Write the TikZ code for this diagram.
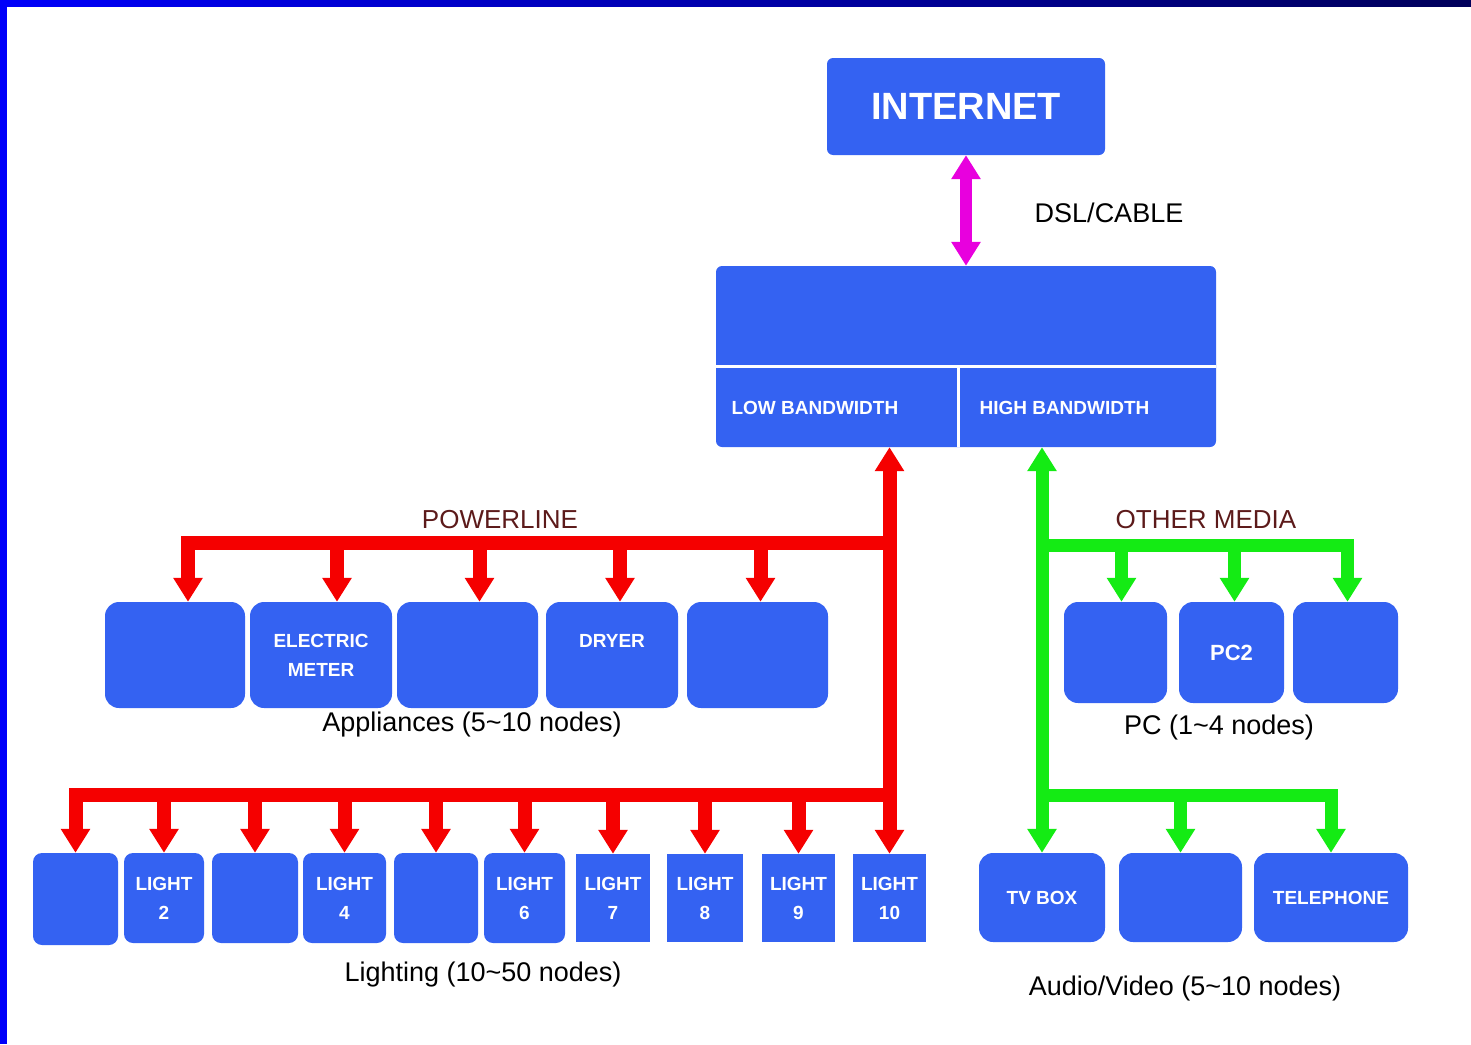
\documentclass[tikz,border=0pt]{standalone}
\usepackage{fontspec}
\setmainfont{Liberation Sans}
\usetikzlibrary{arrows.meta}
\definecolor{boxblue}{RGB}{52,98,242}
\definecolor{powerred}{RGB}{245,0,0}
\definecolor{mediagreen}{RGB}{20,235,20}
\definecolor{dslpink}{RGB}{232,0,222}
\definecolor{busname}{RGB}{92,26,26}
\definecolor{frameblue}{RGB}{0,0,250}
\definecolor{framenavy}{RGB}{0,0,90}
\begin{document}
\begin{tikzpicture}[
        x=1pt, y=-1pt,           % 以像素為單位, y 往下
        % 方塊樣式: 藍底白字
        box/.style={
            fill=boxblue,
            rounded corners=14pt,
            inner sep=0pt,
            text=white,
            align=center,
            font=\fontsize{19}{29}\selectfont\bfseries
        },
        smallbox/.style={box, rounded corners=9pt},
        flatbox/.style={box, sharp corners},
        % 連線樣式
        >={Triangle[width=28pt,length=24pt]},
        powerline/.style={draw=powerred, line width=14pt},
        medialine/.style={draw=mediagreen, line width=13pt},
        dslline/.style={draw=dslpink, line width=12pt},
        divider/.style={draw=white, line width=3pt},
        % 文字標籤樣式
        busname/.style={text=busname, font=\fontsize{26}{30}\selectfont},
        caption/.style={font=\fontsize{27}{32}\selectfont}
    ]

    % --- 邊框 ---
    \useasboundingbox (0,0) rectangle (1471,1044);
    \shade[left color=frameblue, right color=framenavy] (0,0) rectangle (1471,6);
    \fill[frameblue] (0,0) rectangle (7,1044);

    % --- 網際網路與閘道 ---
    \node[box, rounded corners=6pt, minimum width=278pt, minimum height=97pt,
          font=\fontsize{38}{40}\selectfont\bfseries] (internet) at (966,106.5) {INTERNET};
    \node[box, rounded corners=6pt, minimum width=500pt, minimum height=181pt] (router) at (966,356.5) {};
    \draw[divider] (router.west |- 0,366) -- (router.east |- 0,366);
    \draw[divider] (958,366) -- (router.south -| 958,0);
    \node[anchor=west, text=white, font=\fontsize{19}{22}\selectfont\bfseries] (lowbw) at (728,408) {LOW BANDWIDTH};
    \node[anchor=west, text=white, font=\fontsize{19}{22}\selectfont\bfseries] (highbw) at (976,408) {HIGH BANDWIDTH};
    \draw[dslline, <->] (internet.south) -- (router.north);
    \node[font=\fontsize{27}{30}\selectfont] (dsl) at (1109,213) {DSL/CABLE};

    % --- 家電 (Appliances) ---
    \node[box, minimum width=140pt, minimum height=106pt] (a1) at (175,655) {};
    \node[box, minimum width=142pt, minimum height=106pt] (a2) at (321,655) {ELECTRIC\\METER};
    \node[box, minimum width=141pt, minimum height=106pt] (a3) at (467.5,655) {};
    \node[box, minimum width=132pt, minimum height=106pt] (a4) at (612,655) {DRYER\\\mbox{}};
    \node[box, minimum width=141pt, minimum height=106pt] (a5) at (757.5,655) {};
    \node[caption] (appcap) at (472,725) {Appliances (5\textasciitilde 10 nodes)};

    % --- 照明 (Lighting) ---
    \node[smallbox, minimum width=85pt, minimum height=92pt] (l1) at (75.5,899) {};
    \node[smallbox, minimum width=80pt, minimum height=90pt] (l2) at (164,898) {LIGHT\\2};
    \node[smallbox, minimum width=86pt, minimum height=90pt] (l3) at (255,898) {};
    \node[smallbox, minimum width=83pt, minimum height=90pt] (l4) at (344.5,898) {LIGHT\\4};
    \node[smallbox, minimum width=84pt, minimum height=90pt] (l5) at (436,898) {};
    \node[smallbox, minimum width=81pt, minimum height=90pt] (l6) at (524.5,898) {LIGHT\\6};
    \node[flatbox, minimum width=74pt, minimum height=88pt] (l7) at (613,898) {LIGHT\\7};
    \node[flatbox, minimum width=76pt, minimum height=88pt] (l8) at (705,898) {LIGHT\\8};
    \node[flatbox, minimum width=73pt, minimum height=88pt] (l9) at (798.5,898) {LIGHT\\9};
    \node[flatbox, minimum width=73pt, minimum height=88pt] (l10) at (889.5,898) {LIGHT\\10};
    \node[caption] (lightcap) at (483,975) {Lighting (10\textasciitilde 50 nodes)};

    % --- 電腦 (PC) ---
    \node[box, minimum width=103pt, minimum height=101pt] (p1) at (1115.5,652.5) {};
    \node[box, minimum width=105pt, minimum height=101pt, font=\fontsize{22}{26}\selectfont\bfseries] (p2) at (1231.5,652.5) {PC2};
    \node[box, minimum width=105pt, minimum height=101pt] (p3) at (1345.5,652.5) {};
    \node[caption] (pccap) at (1219,728) {PC (1\textasciitilde 4 nodes)};

    % --- 影音 (Audio/Video) ---
    \node[box, minimum width=126pt, minimum height=89pt] (v1) at (1042,897.5) {TV BOX};
    \node[box, minimum width=123pt, minimum height=89pt] (v2) at (1180.5,897.5) {};
    \node[box, minimum width=154pt, minimum height=89pt] (v3) at (1331,897.5) {TELEPHONE};
    \node[caption] (avcap) at (1185,988) {Audio/Video (5\textasciitilde 10 nodes)};

    % --- 電力線 (紅色) ---
    \draw[powerline, <->] (router.south -| l10.north) -- (l10.north);
    \coordinate (pbus) at (888,543);
    \coordinate (lbus) at (888,795);
    \foreach \b/\dx in {a1/13,a2/16,a3/12,a4/8,a5/3}
        \coordinate (d\b) at ([xshift=\dx pt]\b.north);
    \draw[powerline, ->] (pbus) -| (da1);
    \foreach \b in {a2,a3,a4,a5}
        \draw[powerline, ->] (d\b |- pbus) -- (d\b);
    \draw[powerline, ->] (lbus) -| (l1.north);
    \foreach \b in {l2,l3,l4,l5,l6,l7,l8,l9}
        \draw[powerline, ->] (\b.north |- lbus) -- (\b.north);
    \node[busname] (powername) at (500,520) {POWERLINE};

    % --- 其他媒介 (綠色) ---
    \draw[medialine, <->] (router.south -| v1.north) -- (v1.north);
    \coordinate (mbus) at (1043,545);
    \coordinate (vbus) at (1043,795);
    \foreach \b/\dx in {p1/6,p2/3,p3/2}
        \coordinate (d\b) at ([xshift=\dx pt]\b.north);
    \draw[medialine, ->] (mbus) -| (dp3);
    \foreach \b in {p1,p2}
        \draw[medialine, ->] (d\b |- mbus) -- (d\b);
    \draw[medialine, ->] (vbus) -| (v3.north);
    \draw[medialine, ->] (v2.north |- vbus) -- (v2.north);
    \node[busname] (medianame) at (1206,520) {OTHER MEDIA};
\end{tikzpicture}
\end{document}
